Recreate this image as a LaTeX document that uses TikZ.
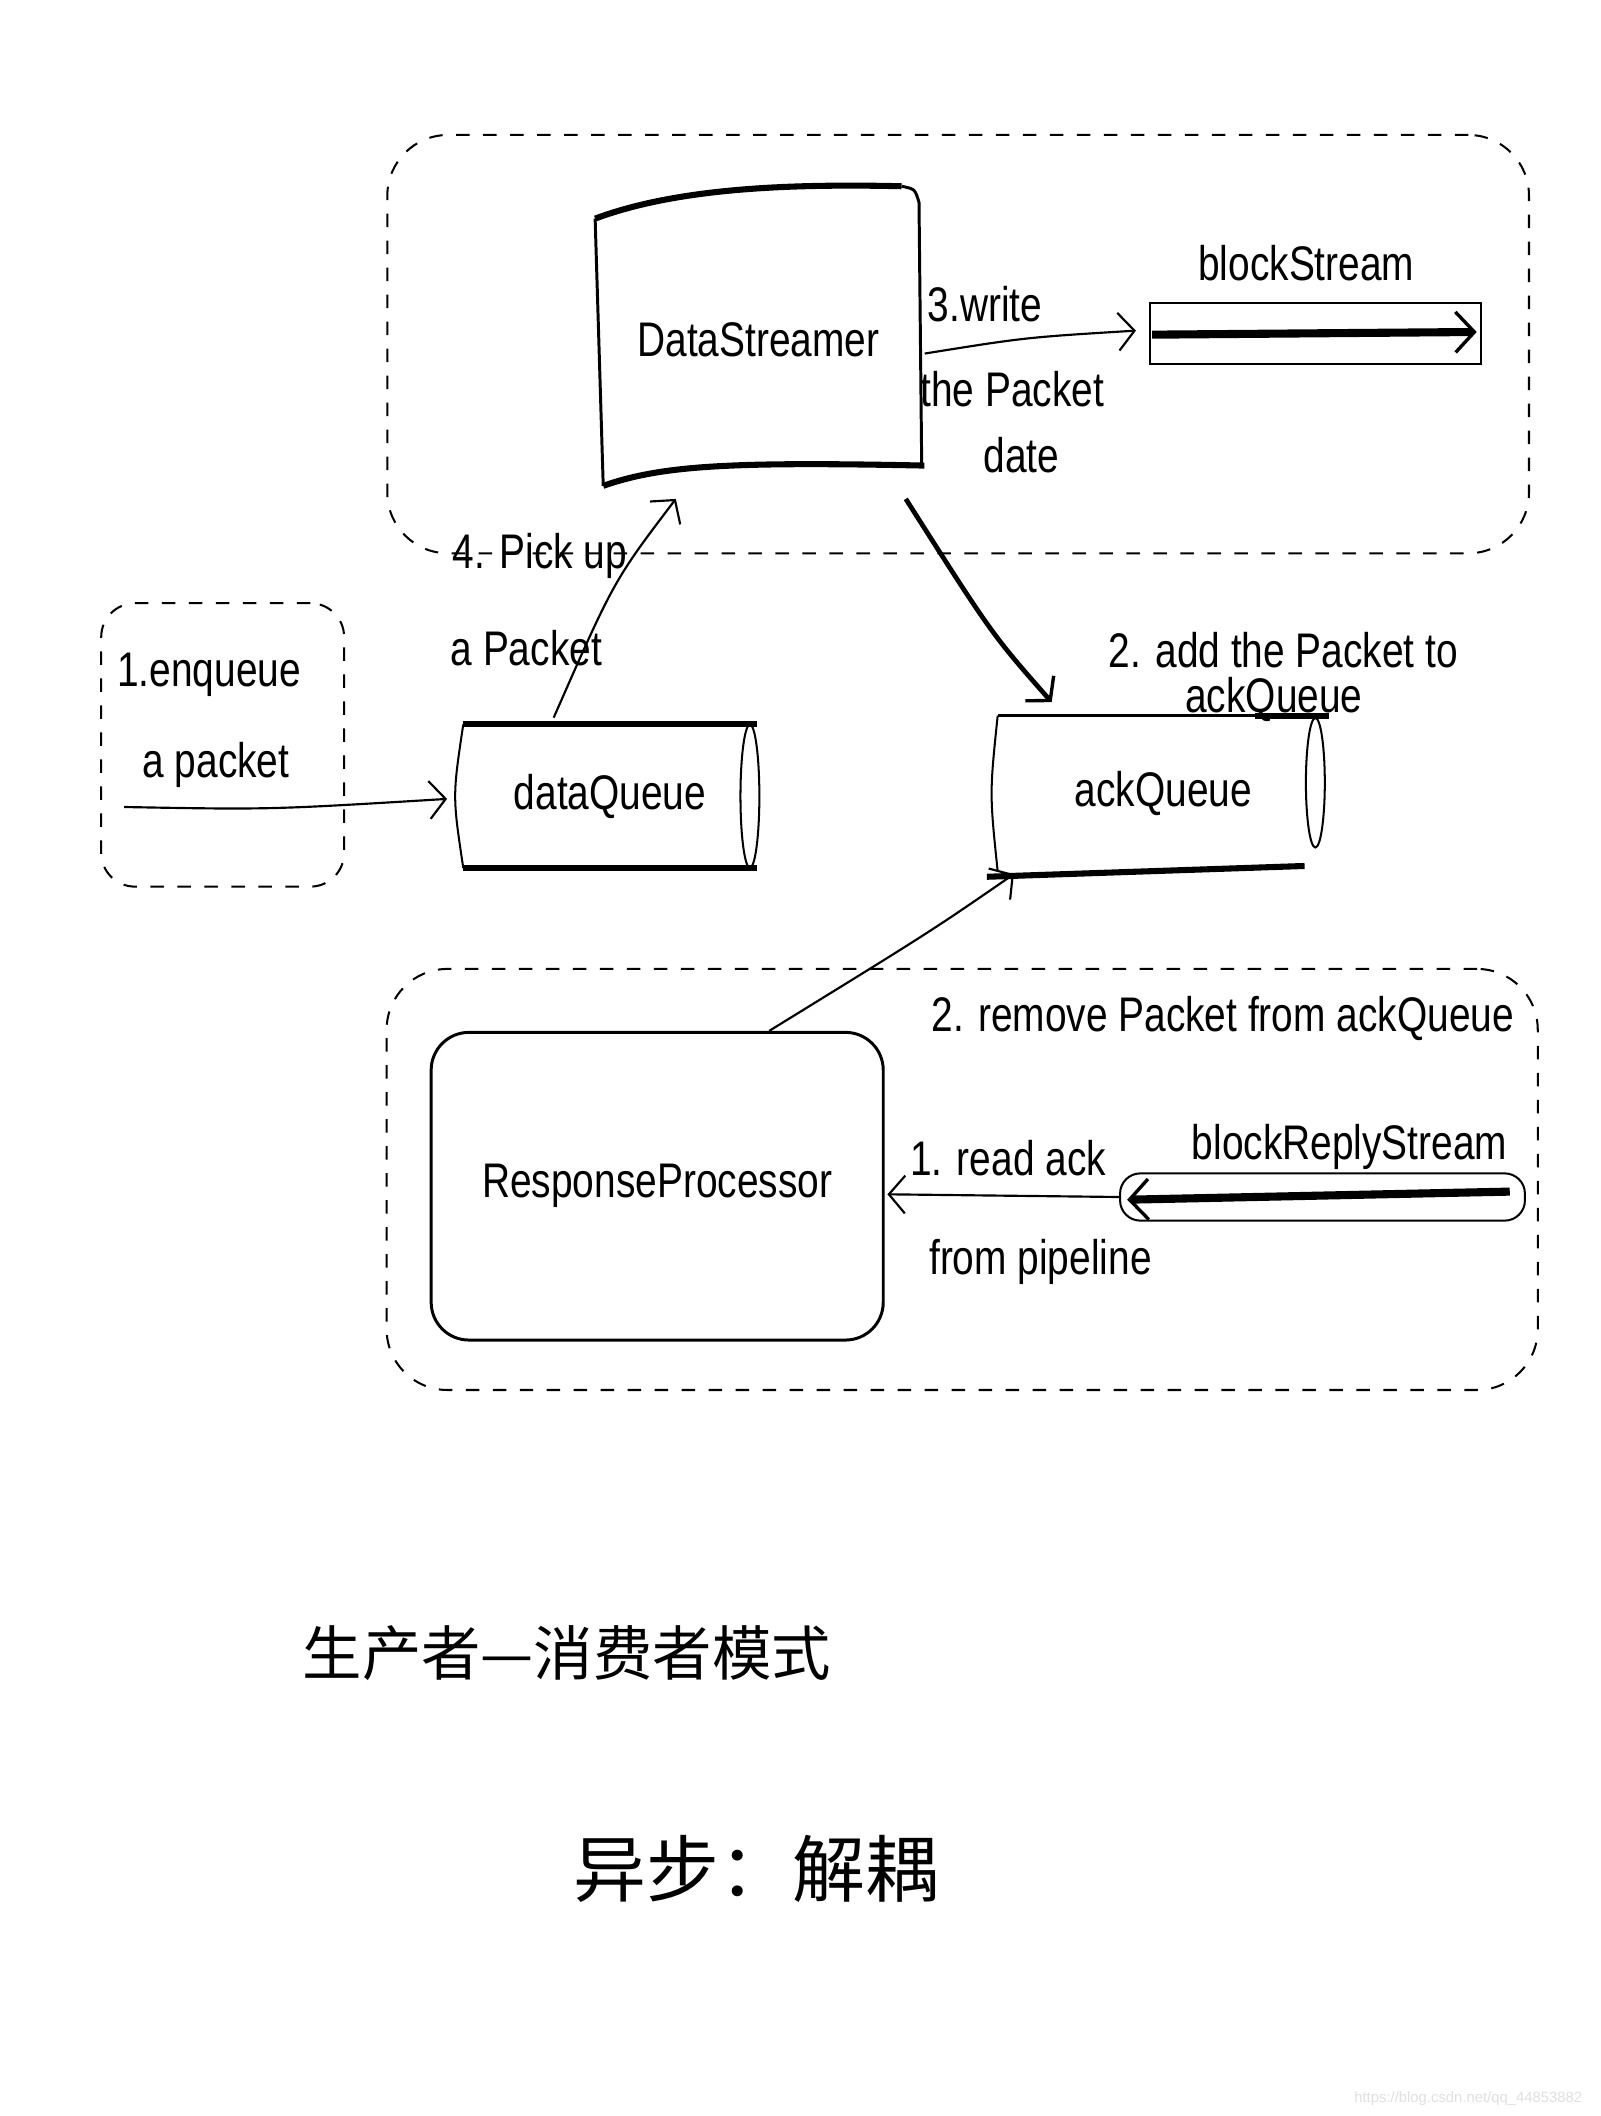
\documentclass[tikz,border=0pt]{standalone}
\usepackage{fontspec}
\setmainfont{Liberation Sans}
\newfontfamily\handfont{Liberation Sans}[FakeStretch=0.8]
\newfontfamily\cjkfont{Noto Sans CJK SC}
\usetikzlibrary{arrows.meta,calc}
\tikzset{
  hw/.style={font=\handfont\fontsize{36}{40}\selectfont, inner sep=0pt, align=center},
  cont/.style={draw, line width=1.5pt, dash pattern=on 10pt off 10pt, rounded corners=45pt},
  boxline/.style={line width=2.2pt},
  thinline/.style={line width=1.5pt},
  heavy/.style={line width=4.5pt},
  barb/.tip={Straight Barb[length=12pt,width=28pt,line width=1.6pt]},
  conn/.style={line width=1.6pt, -barb},
}
\begin{document}
\begin{tikzpicture}[x=1pt,y=-1pt]
\useasboundingbox (0,0) rectangle (1186,1568);
\fill[white] (0,0) rectangle (1186,1568);

% containers
\node[cont, minimum width=846pt, minimum height=310pt] (topc) at (710,255) {};
\node[cont, minimum width=853pt, minimum height=312pt] (botc) at (713,874) {};
\node[cont, rounded corners=25pt, minimum width=180pt, minimum height=210pt] (leftc) at (165,552) {};

% DataStreamer
\node[hw, minimum width=242pt, minimum height=225pt] (ds) at (562,252) {DataStreamer};
\draw[heavy] (441,162) .. controls (500,140) and (580,136) .. (668,138);
\draw[boxline] (668,138) .. controls (678,140) .. (681,150) -- (683,345);
\draw[boxline] (441,162) -- (447,360);
\draw[heavy] (447,360) .. controls (490,345) and (540,342) .. (685,345);

% blockStream
\node[draw, thinline, minimum width=245pt, minimum height=45pt] (bs) at (975,247) {};
\node[hw] (bst) at (968,195) {blockStream};
\coordinate (bsl) at ($(bs.west)+(2,1)$);
\coordinate (bsr) at ($(bs.east)+(-4,-1)$);
\draw[line width=6pt, -{Straight Barb[length=14pt,width=30pt,line width=2.5pt]}] (bsl) -- (bsr);

% write arrow
\draw[conn] ($(ds.east)+(2,10)$) .. controls (760,250) .. ($(bs.west)+(-10,-2)$);
\node[hw] (w1) at (730,225) {3.write};
\node[hw] (w2) at (750,288) {the Packet};
\node[hw] (w3) at (757,337) {date};

% dataQueue
\node[hw, minimum width=217pt, minimum height=106pt] (dq) at (452,590) {dataQueue};
\draw[heavy] (dq.north west) -- (dq.north east);
\draw[heavy] (dq.south west) -- (dq.south east);
\draw[thinline] (dq.north west) .. controls ($(dq.west)+(-8,0)$) .. (dq.south west);
\draw[thinline] ($(dq.east)+(-5,0)$) ellipse [x radius=7pt, y radius=53pt];

% ackQueue
\node[hw, minimum width=245pt, minimum height=115pt] (aq) at (862,588) {ackQueue};
\draw[boxline] (aq.north west) -- (aq.north east);
\draw[heavy] ($(aq.north east)+(-55,0)$) -- (aq.north east);
\draw[heavy] ($(aq.south west)+(-8,4)$) -- ($(aq.south east)+(-18,-4)$);
\draw[thinline] (aq.north west) .. controls ($(aq.west)+(-6,0)$) .. (aq.south west);
\draw[thinline] ($(aq.east)+(-10,-8)$) ellipse [x radius=7pt, y radius=48pt];

% ds -> aq
\draw[line width=3.5pt, -{Straight Barb[length=12pt,width=28pt,line width=2.5pt]}]
  ($(ds.south east)+(-12,5)$) .. controls (735,470) .. ($(aq.north west)+(40,-10)$);
\node[hw] (a1) at (951,482) {2. add the Packet to};
\node[hw] (a2) at (944,518) {ackQueue};

% dq -> ds
\draw[conn] ($(dq.north west)+(67,-5)$) .. controls (455,430) .. ($(ds.south west)+(60,5)$);
\node[hw] (p1) at (400,412) {4. Pick up};
\node[hw] (p2) at (390,480) {a Packet};

% enqueue
\node[hw] (e1) at (155,500) {1.enqueue};
\node[hw] (e2) at (160,567) {a packet};
\coordinate (enq) at (92,598);
\draw[conn] (enq) .. controls (200,600) .. ($(dq.west)+(-12,2)$);

% ResponseProcessor
\node[hw, draw, boxline, rounded corners=28pt, minimum width=335pt, minimum height=228pt] (rp) at (487,879) {ResponseProcessor};

% blockReplyStream
\node[draw, thinline, rounded corners=15pt, minimum width=300pt, minimum height=35pt] (brs) at (980,887) {};
\node[hw] (brt) at (1000,850) {blockReplyStream};
\draw[line width=6pt, -{Straight Barb[length=14pt,width=30pt,line width=2.5pt]}]
  ($(brs.east)+(-12,-4)$) -- ($(brs.west)+(6,2)$);

% brs -> rp
\draw[conn] (brs.west) -- ($(rp.east)+(2,6)$);
\node[hw] (r1) at (747,858) {1. read ack};
\node[hw] (r2) at (771,935) {from pipeline};

% rp -> aq
\draw[conn] ($(rp.north)+(83,0)$) .. controls (690,690) .. ($(aq.south west)+(12,2)$);
\node[hw] (rm) at (906,755) {2. remove Packet from ackQueue};

% Chinese text
\node[font=\cjkfont\fontsize{44}{48}\selectfont, inner sep=0pt] (t1) at (420,1225) {生产者—消费者模式};
\node[font=\cjkfont\fontsize{54}{58}\selectfont, inner sep=0pt] (t2) at (560,1385) {异步：解耦};

% watermark
\node[font=\fontsize{11}{13}\selectfont, text=black!12, inner sep=0pt] (wm) at (1088,1555) {https://blog.csdn.net/qq\_44853882};
\end{tikzpicture}
\end{document}
